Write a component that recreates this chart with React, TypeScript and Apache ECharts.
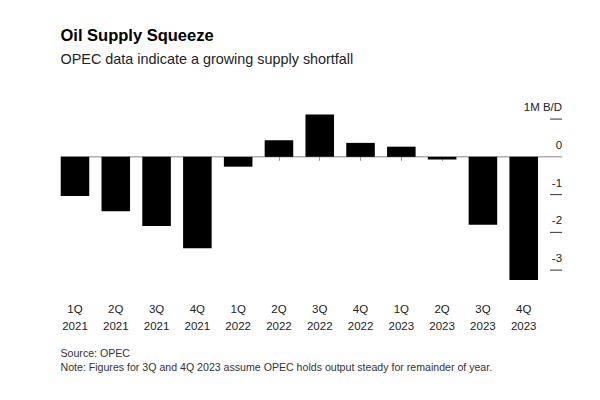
import React, { useEffect, useRef } from "react";
import * as echarts from "echarts";

const quarters = ["1Q", "2Q", "3Q", "4Q", "1Q", "2Q", "3Q", "4Q", "1Q", "2Q", "3Q", "4Q"];
const years = ["2021", "2021", "2021", "2021", "2022", "2022", "2022", "2022", "2023", "2023", "2023", "2023"];
const balance = [-1.04, -1.44, -1.83, -2.42, -0.26, 0.44, 1.12, 0.37, 0.27, -0.07, -1.8, -3.26];
const tickValues = [1, 0, -1, -2, -3];
const tickLabels = ["1M B/D", "0", "-1", "-2", "-3"];

const titleText = "Oil Supply Squeeze";
const subtitleText = "OPEC data indicate a growing supply shortfall";
const sourceText = "Source: OPEC";
const noteText = "Note: Figures for 3Q and 4Q 2023 assume OPEC holds output steady for remainder of year.";

const FONT = "'Liberation Sans', Arial, sans-serif";

export default function App() {
  const ref = useRef<HTMLDivElement>(null);
  useEffect(() => {
    if (!ref.current) return;
    const chart = echarts.init(ref.current, undefined, { renderer: "svg" });
    const categories = quarters.map((q, i) => q + "\n" + years[i]);
    chart.setOption({
      animation: false,
      backgroundColor: "#ffffff",
      textStyle: { fontFamily: FONT },
      grid: { left: 54.6, right: 55.9, top: 104, height: 185 },
      xAxis: {
        type: "category",
        data: categories,
        axisLine: { show: false },
        axisTick: { show: true, alignWithLabel: true, length: 4, lineStyle: { color: "#999999", width: 1 } },
        axisLabel: { color: "#222222", fontSize: 11.5, lineHeight: 17, margin: 11, fontFamily: FONT },
        splitLine: { show: false },
      },
      yAxis: {
        type: "value",
        min: -3.5,
        max: 1.4,
        show: false,
        splitLine: { show: false },
      },
      graphic: [
        { type: "text", left: 60.5, top: 26, style: { text: titleText, font: `bold 16.5px ${FONT}`, fill: "#000000" } },
        { type: "text", left: 60.5, top: 52, style: { text: subtitleText, font: `14.4px ${FONT}`, fill: "#222222" } },
        { type: "text", left: 60.5, top: 347.5, style: { text: sourceText, font: `10.6px ${FONT}`, fill: "#333333" } },
        { type: "text", left: 60.5, top: 361.5, style: { text: noteText, font: `10.6px ${FONT}`, fill: "#333333" } },
      ],
      series: [
        {
          type: "custom",
          z: 1,
          silent: true,
          clip: false,
          encode: { x: 0, y: 1 },
          data: tickValues.map((v, i) => [0, v, i]),
          renderItem: (params: any, api: any) => {
            const v = api.value(1);
            const idx = api.value(2);
            const y = api.coord([0, v])[1];
            const cs = params.coordSys;
            const right = cs.x + cs.width;
            const children: any[] = [];
            if (v === 0) {
              children.push({
                type: "line",
                shape: { x1: cs.x + 6, y1: y, x2: right + 18, y2: y },
                style: { stroke: "#888888", lineWidth: 1 },
              });
            } else {
              children.push({
                type: "line",
                shape: { x1: right + 6, y1: y, x2: right + 18, y2: y },
                style: { stroke: "#333333", lineWidth: 1 },
              });
            }
            children.push({
              type: "text",
              x: right + 18,
              y: y - 12,
              style: {
                text: tickLabels[idx],
                align: "right",
                verticalAlign: "middle",
                font: `11.5px ${FONT}`,
                fill: "#222222",
              },
            });
            return { type: "group", children };
          },
        },
        {
          type: "bar",
          z: 2,
          data: balance,
          barCategoryGap: "30%",
          itemStyle: { color: "#000000" },
        },
      ],
    });
    return () => chart.dispose();
  }, []);
  return <div ref={ref} style={{ position: "absolute", left: 0, top: 0, width: 600, height: 400 }} />;
}
